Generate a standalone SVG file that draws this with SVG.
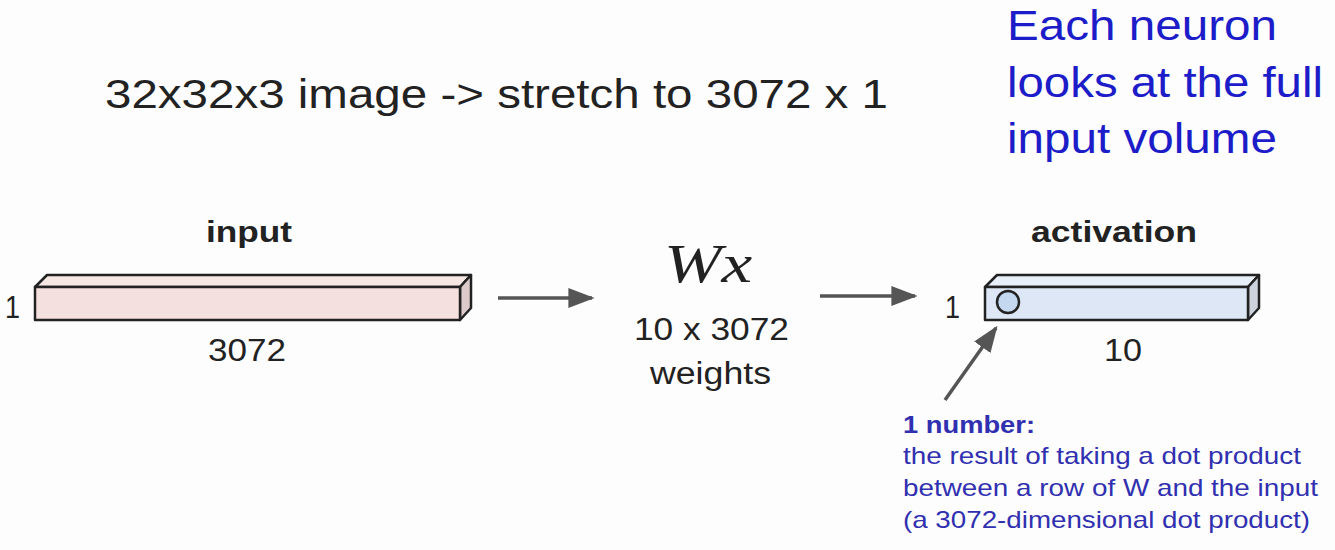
<svg xmlns="http://www.w3.org/2000/svg" width="1335" height="550" viewBox="0 0 1335 550">
<style>
.t{font-family:"Liberation Sans",Arial,sans-serif;fill:#222}
.b{font-weight:bold}
.blue{font-family:"Liberation Sans",Arial,sans-serif;fill:#1c1cc8}
.note{font-family:"Liberation Sans",Arial,sans-serif;fill:#3030b0;font-size:24px}
.edge{stroke:#222;stroke-width:2.5;stroke-linejoin:round}
.conn{stroke:#555;stroke-width:3.5;fill:none}
</style>
<defs>
<marker id="ah" viewBox="0 0 10 10" refX="9" refY="5" markerWidth="7.5" markerHeight="7.5" orient="auto" markerUnits="strokeWidth">
<path d="M0,1.2 L10,5 L0,8.8 Z" fill="#555"/>
</marker>
</defs>
<rect width="1335" height="550" fill="#fdfdfd"/>
<text class="t" x="105" y="108" font-size="41" textLength="783" lengthAdjust="spacingAndGlyphs">32x32x3 image -&gt; stretch to 3072 x 1</text>
<g id="caption">
<text class="blue" font-size="42" x="1007" y="40" textLength="270" lengthAdjust="spacingAndGlyphs">Each neuron</text>
<text class="blue" font-size="42" x="1007" y="97" textLength="316" lengthAdjust="spacingAndGlyphs">looks at the full</text>
<text class="blue" font-size="42" x="1007" y="153" textLength="270" lengthAdjust="spacingAndGlyphs">input volume</text>
</g>
<g id="input">
<text class="t b" x="206" y="242" font-size="30" textLength="86" lengthAdjust="spacingAndGlyphs">input</text>
<polygon class="edge" points="35,287 47,275 471,275 460,287" fill="#f6e6e4"/>
<polygon class="edge" points="460,287 471,275 471,308 460,320" fill="#dccbca"/>
<rect class="edge" x="35" y="287" width="425" height="33" fill="#f4e0de"/>
<text class="t" x="5" y="318" font-size="32" textLength="15" lengthAdjust="spacingAndGlyphs">1</text>
<text class="t" x="208" y="361" font-size="31" textLength="78" lengthAdjust="spacingAndGlyphs">3072</text>
</g>
<g id="weights">
<text x="664" y="282" font-size="54" font-style="italic" font-family="'Liberation Serif','Times New Roman',serif" fill="#222" textLength="88" lengthAdjust="spacingAndGlyphs">Wx</text>
<text class="t" x="634" y="340" font-size="31" textLength="155" lengthAdjust="spacingAndGlyphs">10 x 3072</text>
<text class="t" x="650" y="384" font-size="31" textLength="121" lengthAdjust="spacingAndGlyphs">weights</text>
</g>
<g id="activation">
<text class="t b" x="1031" y="242" font-size="30" textLength="166" lengthAdjust="spacingAndGlyphs">activation</text>
<polygon class="edge" points="985,287 997,275 1259,275 1248,287" fill="#e8eff9"/>
<polygon class="edge" points="1248,287 1259,275 1259,308 1248,320" fill="#ccd3dc"/>
<rect class="edge" x="985" y="287" width="263" height="33" fill="#dde7f5"/>
<circle cx="1008" cy="302" r="11" fill="#c4d8f0" stroke="#222" stroke-width="2.5"/>
<text class="t" x="945" y="318" font-size="32" textLength="15" lengthAdjust="spacingAndGlyphs">1</text>
<text class="t" x="1104" y="361" font-size="31" textLength="38" lengthAdjust="spacingAndGlyphs">10</text>
</g>
<g id="note">
<text class="note b" x="903" y="433" textLength="132" lengthAdjust="spacingAndGlyphs">1 number:</text>
<text class="note" x="903" y="464" textLength="398" lengthAdjust="spacingAndGlyphs">the result of taking a dot product</text>
<text class="note" x="903" y="496" textLength="415" lengthAdjust="spacingAndGlyphs">between a row of W and the input</text>
<text class="note" x="903" y="528" textLength="407" lengthAdjust="spacingAndGlyphs">(a 3072-dimensional dot product)</text>
</g>
<g id="connectors">
<line class="conn" x1="498" y1="298" x2="592" y2="298" marker-end="url(#ah)"/>
<line class="conn" x1="820" y1="296" x2="915" y2="296" marker-end="url(#ah)"/>
<line class="conn" x1="945" y1="400" x2="996" y2="328" marker-end="url(#ah)"/>
</g>
</svg>
